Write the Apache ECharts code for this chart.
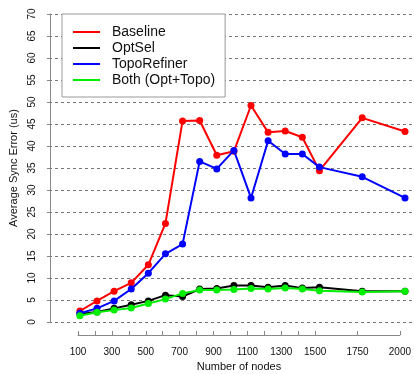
<!DOCTYPE html>
<html>
<head>
<meta charset="utf-8">
<script src="https://cdn.jsdelivr.net/npm/echarts@6/dist/echarts.min.js"></script>
<style>
html,body{margin:0;padding:0;background:#fff;}
#chart{width:414px;height:374px;}
</style>
</head>
<body>
<div id="chart"></div>
<script>
var nodes = [100,200,300,400,500,600,700,800,900,1000,1100,1200,1300,1400,1500,1750,2000];
var baseline = [2.5,4.8,7.0,8.9,13.0,22.4,45.7,45.8,37.9,38.8,49.2,43.1,43.4,42.0,34.4,46.4,43.3];
var optSel = [1.8,2.3,3.1,3.9,4.8,6.1,5.8,7.5,7.6,8.3,8.3,7.9,8.3,7.7,7.9,7.0,7.0];
var topoRefiner = [2.0,3.1,4.8,7.5,11.1,15.5,17.7,36.5,34.8,39.0,28.2,41.2,38.2,38.2,35.2,33.0,28.2];
var both = [1.4,2.2,2.7,3.2,4.2,5.2,6.5,7.3,7.3,7.4,7.6,7.5,7.7,7.5,7.1,6.8,7.0];
var xTickValues = [100,200,300,400,500,600,700,800,900,1000,1100,1200,1300,1400,1500,1750,2000];
var xLabelValues = [100,300,500,700,900,1100,1300,1500,1750,2000];
var seriesNames = ['Baseline','OptSel','TopoRefiner','Both (Opt+Topo)'];
var seriesColors = ['#ff0000','#000000','#0000ff','#00ee00'];
var seriesData = [baseline, optSel, topoRefiner, both];

function pairs(arr){ return nodes.map(function(n,i){ return [n, arr[i]]; }); }

var font = 'Liberation Sans, Arial, Helvetica, sans-serif';
var chart = echarts.init(document.getElementById('chart'), null, {renderer:'canvas'});
var option = {
  animation: false,
  backgroundColor: '#fff',
  textStyle: {fontFamily: font},
  grid: [
    {left: 78, right: 9, top: 14, bottom: 52},
    {left: 49, right: 0, top: 14, bottom: 52},
    {left: 78, right: 9, top: 334, height: 1}
  ],
  xAxis: [
    {
      type: 'value', gridIndex: 0, min: 100, max: 2000, show: false
    },
    {
      type: 'value', gridIndex: 1, min: 0, max: 1, show: false
    },
    {
      type: 'value', gridIndex: 2, min: 100, max: 2000, position: 'bottom',
      name: 'Number of nodes', nameLocation: 'middle', nameGap: 26,
      nameTextStyle: {fontSize: 11, color: '#111', fontFamily: font},
      axisLine: {show: true, lineStyle: {color: '#888', width: 1}},
      axisTick: {show: true, inside: true, length: 4, customValues: xTickValues, lineStyle: {color: '#888'}},
      axisLabel: {customValues: xLabelValues, fontSize: 10, color: '#111', margin: 12, fontFamily: font,
        formatter: function(v){ return String(v); }},
      splitLine: {show: false}
    }
  ],
  yAxis: [
    {
      type: 'value', gridIndex: 0, min: 0, max: 70, interval: 5, offset: 30,
      name: 'Average Sync Error (us)', nameLocation: 'middle', nameGap: 27,
      nameTextStyle: {fontSize: 11, color: '#111', fontFamily: font},
      axisLine: {show: true, lineStyle: {color: '#888', width: 1}},
      axisTick: {show: true, length: 3, lineStyle: {color: '#888'}},
      axisLabel: {rotate: 90, fontSize: 10, color: '#111', margin: 13, fontFamily: font},
      splitLine: {show: false}
    },
    {
      type: 'value', gridIndex: 1, min: 0, max: 70, interval: 5,
      axisLine: {show: false}, axisTick: {show: false}, axisLabel: {show: false},
      splitLine: {show: true, lineStyle: {color: '#777', type: [3, 3], width: 1}}
    },
    {
      type: 'value', gridIndex: 2, min: 0, max: 1, show: false
    }
  ],
  legend: {
    data: seriesNames.map(function(n){ return {name: n}; }),
    orient: 'vertical', left: 62, top: 14,
    icon: 'rect', itemWidth: 27, itemHeight: 2, itemGap: 2,
    padding: [11, 10, 10, 11],
    backgroundColor: '#fff', borderColor: '#999', borderWidth: 1, borderRadius: 0,
    textStyle: {fontSize: 14, color: '#111', fontFamily: font, padding: [0,0,0,7]}
  },
  series: seriesNames.map(function(n, k){
    return {
      name: n, type: 'line', xAxisIndex: 0, yAxisIndex: 0,
      data: pairs(seriesData[k]),
      symbol: 'circle', symbolSize: 7,
      lineStyle: {color: seriesColors[k], width: 2},
      itemStyle: {color: seriesColors[k]},
      z: 3 + k
    };
  })
};
chart.setOption(option);
</script>
</body>
</html>
